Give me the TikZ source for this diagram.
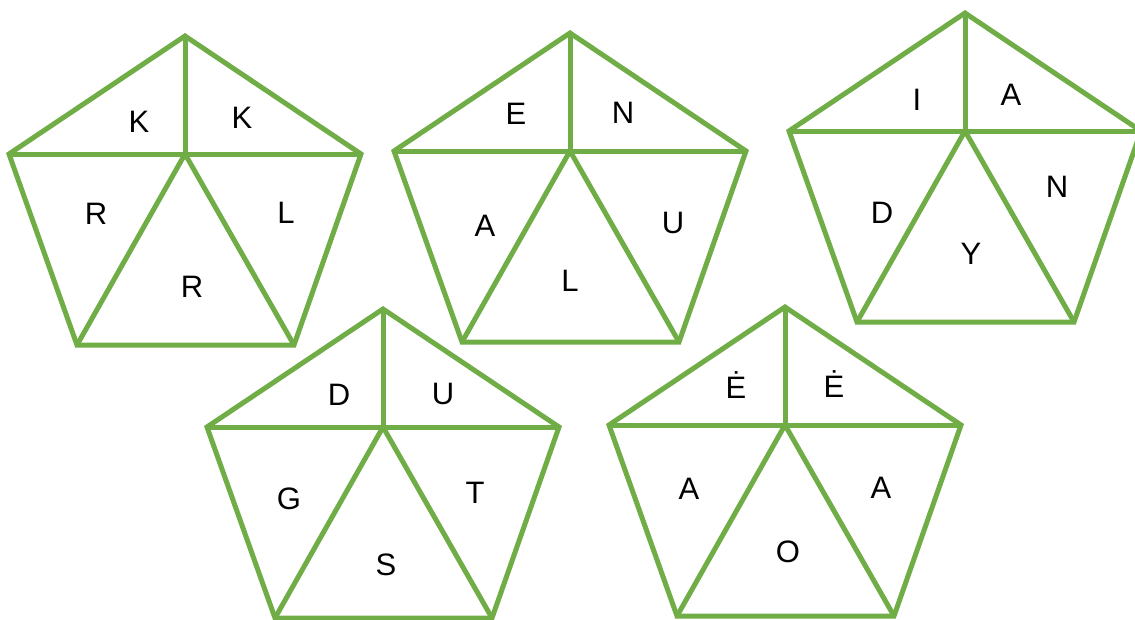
\documentclass[tikz,border=0pt]{standalone}
\usepackage{fontspec}
\setmainfont{Liberation Sans}
\usetikzlibrary{positioning}
\definecolor{leafgreen}{HTML}{70AD47}

\begin{document}
\begin{tikzpicture}[
  x=1pt,y=-1pt,
  line width=5pt,
  edge/.style={draw=leafgreen,line join=miter},
  letter/.style={font=\fontsize{31}{36}\selectfont,inner sep=0pt}
]
\useasboundingbox (0,0) rectangle (1135,619);
\clip (0,0) rectangle (1135,619);

% pentagons
\foreach \cx/\cy in {185/154,570/151,965/131,383/427,785/425}{
  \begin{scope}[shift={(\cx,\cy)}]
    \draw[edge] (0,-118) -- (176,0) -- (109,191) -- (-108,191) -- (-176,0) -- cycle;
    \draw[edge] (-176,0) -- (176,0);
    \draw[edge] (0,-118) -- (0,0);
    \draw[edge] (-108,191) -- (0,0) -- (109,191);
  \end{scope}
}

% pentagon 1
\begin{scope}[shift={(185,154)}]
  \node[letter] (ka) at (-46,-32) {K};
  \node[letter] (kb) at (57,-36) {K};
  \node[letter] (ra) at (-89,60) {R};
  \node[letter] (la) at (101,59) {L};
  \node[letter] (rb) at (7,133) {R};
\end{scope}

% pentagon 2
\begin{scope}[shift={(570,151)}]
  \node[letter] (ea) at (-54,-37) {E};
  \node[letter] (na) at (53,-38) {N};
  \node[letter] (aa) at (-85,75) {A};
  \node[letter] (ua) at (103,72) {U};
  \node[letter] (lb) at (0,130) {L};
\end{scope}

% pentagon 3
\begin{scope}[shift={(965,131)}]
  \node[letter] (ia) at (-48,-31) {I};
  \node[letter] (ab) at (46,-36) {A};
  \node[letter] (da) at (-83,82) {D};
  \node[letter] (nb) at (92,56) {N};
  \node[letter] (ya) at (6,123) {Y};
\end{scope}

% pentagon 4
\begin{scope}[shift={(383,427)}]
  \node[letter] (db) at (-44,-32) {D};
  \node[letter] (ub) at (60,-33) {U};
  \node[letter] (ga) at (-94,72) {G};
  \node[letter] (ta) at (92,66) {T};
  \node[letter] (sa) at (3,138) {S};
\end{scope}

% pentagon 5
\begin{scope}[shift={(785,425)}]
  \node[letter] (edota) at (-49,-40) {Ė};
  \node[letter] (edotb) at (49,-41) {Ė};
  \node[letter] (ac) at (-96,64) {A};
  \node[letter] (ad) at (96,63) {A};
  \node[letter] (oa) at (3,127) {O};
\end{scope}
\end{tikzpicture}
\end{document}
